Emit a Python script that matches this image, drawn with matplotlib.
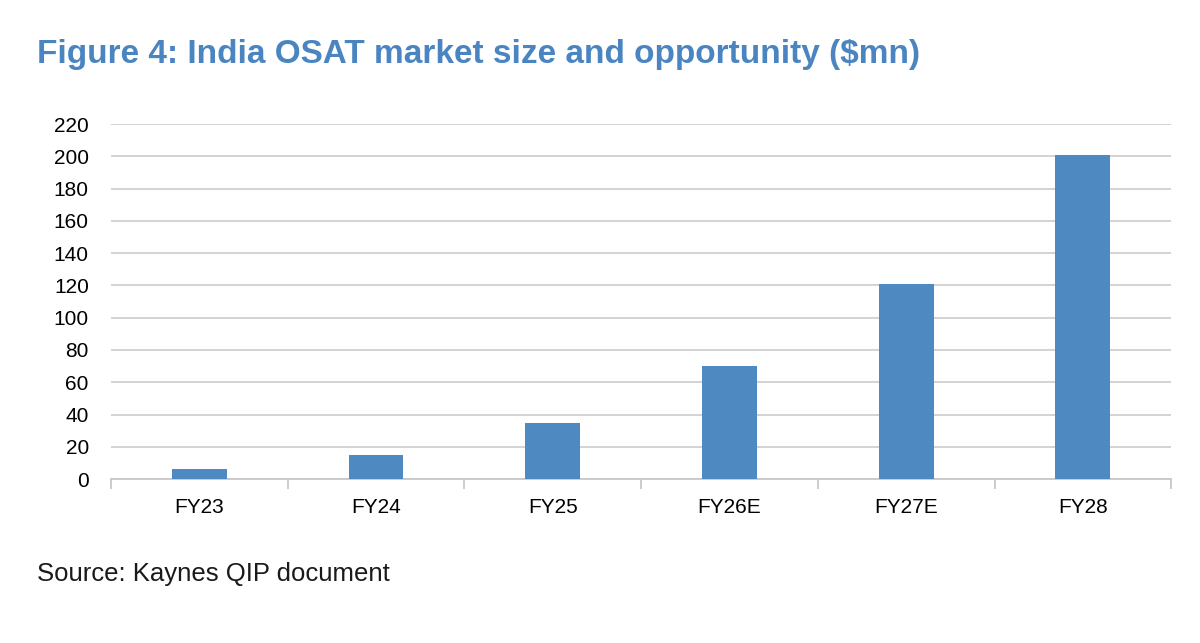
import matplotlib
matplotlib.use("Agg")
import matplotlib.pyplot as plt
import numpy as np

years = ["FY23", "FY24", "FY25", "FY26E", "FY27E", "FY28"]
market = [6, 15, 35, 70, 121, 201]
yticks = list(range(0, 221, 20))

sans = ["Liberation Sans", "DejaVu Sans"]

fig = plt.figure(figsize=(12, 6.43), dpi=100)
ax = fig.add_axes([0.0925, 0.255, 0.8835, 0.552])

x = np.arange(len(years))
ax.bar(x, market, width=0.31, color="#4f89c2", zorder=3)

ax.set_xlim(-0.5, len(years) - 0.5)
ax.set_ylim(0, 220)
ax.set_yticks(yticks)
ax.set_xticks(x)
ax.set_xticklabels(years, family=sans, fontsize=15)
ax.set_yticklabels([str(v) for v in yticks], family=sans, fontsize=15)

ax.grid(axis="y", color="#d0d0d0", lw=1.3, zorder=0)
for s in ["top", "right", "left"]:
    ax.spines[s].set_visible(False)
ax.spines["bottom"].set_color("#c8c8c8")
ax.spines["bottom"].set_linewidth(1.3)
ax.tick_params(axis="y", length=0, pad=16)
ax.tick_params(axis="x", length=0, pad=14)
# category separator ticks below the axis line
ax.set_xticks(np.arange(-0.5, len(years), 1), minor=True)
ax.tick_params(axis="x", which="minor", length=7, color="#c8c8c8", width=1.3)

fig.text(0.031, 0.916, "Figure 4: India OSAT market size and opportunity ($mn)",
         family=sans, fontsize=24, fontweight="bold", color="#4a85c1",
         va="center", ha="left")
fig.text(0.031, 0.108, "Source: Kaynes QIP document",
         family=sans, fontsize=18.5, color="#1a1a1a", va="center", ha="left")

fig.savefig("out.png", dpi=100)
